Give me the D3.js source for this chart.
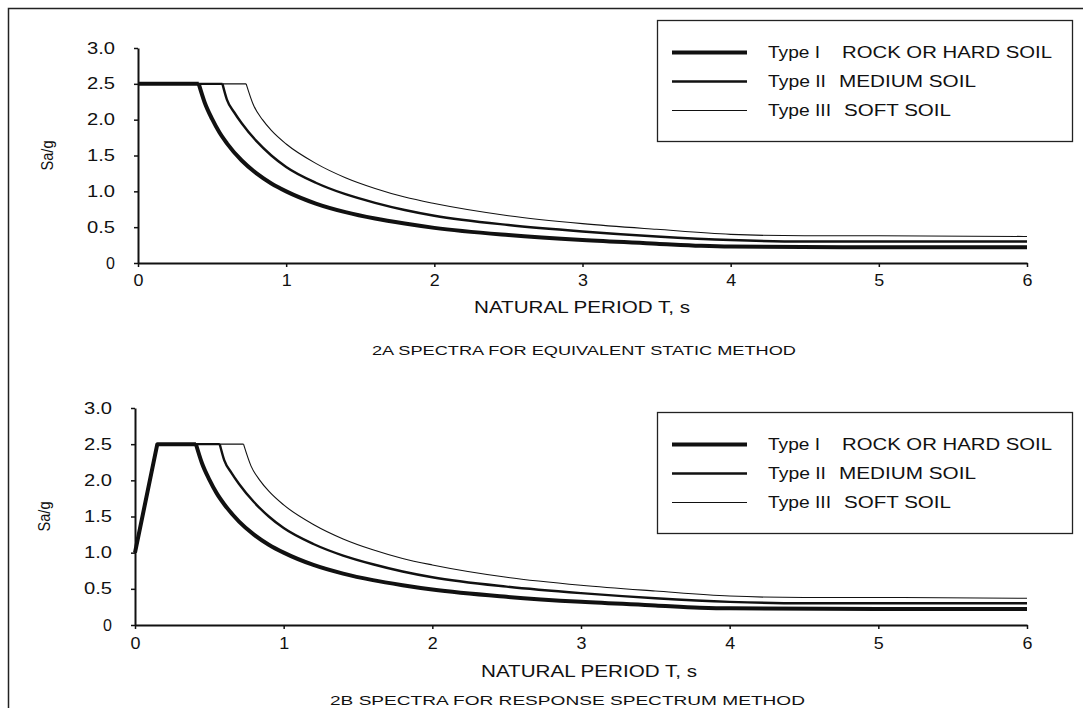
<!DOCTYPE html>
<html>
<head>
<meta charset="utf-8">
<script src="https://cdn.jsdelivr.net/npm/d3@7"></script>
<style>
  body { margin: 0; background: #fff; }
  svg text { font-family: "Liberation Sans", Arial, sans-serif; fill: #111; }
</style>
</head>
<body>
<div id="chart"></div>
<script>
//------------------------1. DATA-------------------------//
// [T (s), Sa/g] pairs
const staticTypeI   = [[0,2.5],[0.41,2.5],[0.45,2.24],[0.5,2.01],[0.55,1.82],[0.6,1.67],[0.7,1.43],[0.8,1.25],[0.9,1.11],[1.0,1.0],[1.2,0.83],[1.4,0.71],[1.6,0.62],[1.8,0.55],[2.0,0.49],[2.5,0.39],[3.0,0.32],[3.5,0.27],[3.8,0.24],[4.0,0.23],[5.0,0.22],[6.0,0.22]];
const staticTypeII  = [[0,2.5],[0.57,2.5],[0.6,2.28],[0.65,2.1],[0.7,1.95],[0.8,1.70],[0.9,1.50],[1.0,1.34],[1.2,1.12],[1.4,0.96],[1.6,0.84],[1.8,0.74],[2.0,0.66],[2.5,0.53],[3.0,0.44],[3.5,0.37],[4.0,0.32],[4.5,0.30],[5.0,0.30],[6.0,0.30]];
const staticTypeIII = [[0,2.5],[0.73,2.5],[0.78,2.2],[0.84,2.0],[0.9,1.85],[1.0,1.66],[1.2,1.39],[1.4,1.19],[1.6,1.04],[1.8,0.92],[2.0,0.83],[2.5,0.66],[3.0,0.55],[3.5,0.47],[4.0,0.40],[4.5,0.38],[5.0,0.38],[6.0,0.37]];

const respTypeI   = [[0,1.0],[0.15,2.5],[0.41,2.5],[0.45,2.24],[0.5,2.01],[0.55,1.82],[0.6,1.67],[0.7,1.43],[0.8,1.25],[0.9,1.11],[1.0,1.0],[1.2,0.83],[1.4,0.71],[1.6,0.62],[1.8,0.55],[2.0,0.49],[2.5,0.39],[3.0,0.32],[3.5,0.27],[3.8,0.24],[4.0,0.23],[5.0,0.22],[6.0,0.22]];
const respTypeII  = [[0,1.0],[0.15,2.5],[0.57,2.5],[0.6,2.28],[0.65,2.1],[0.7,1.95],[0.8,1.70],[0.9,1.50],[1.0,1.34],[1.2,1.12],[1.4,0.96],[1.6,0.84],[1.8,0.74],[2.0,0.66],[2.5,0.53],[3.0,0.44],[3.5,0.37],[4.0,0.32],[4.5,0.30],[5.0,0.30],[6.0,0.30]];
const respTypeIII = [[0,1.0],[0.15,2.5],[0.73,2.5],[0.78,2.2],[0.84,2.0],[0.9,1.85],[1.0,1.66],[1.2,1.39],[1.4,1.19],[1.6,1.04],[1.8,0.92],[2.0,0.83],[2.5,0.66],[3.0,0.55],[3.5,0.47],[4.0,0.40],[4.5,0.38],[5.0,0.38],[6.0,0.37]];

const xTicks = [0, 1, 2, 3, 4, 5, 6];
const yTicks = [0, 0.5, 1.0, 1.5, 2.0, 2.5, 3.0];
const legendTypes = ["Type I", "Type II", "Type III"];
const legendSoils = ["ROCK OR HARD SOIL", "MEDIUM SOIL", "SOFT SOIL"];
const captions = ["2A SPECTRA FOR EQUIVALENT STATIC METHOD", "2B SPECTRA FOR RESPONSE SPECTRUM METHOD"];

//------------------------2. SVG-------------------------//
const width = 1083;
const height = 708;
const strokes = [4, 2.4, 1.1];
// scanned lettering is wider than Arial, so text widths are taken from the scan
const typeWidths = [52, 58, 63];
const soilX = [842, 839, 844];
const soilWidths = [210, 137, 107];

const svg = d3.select("#chart").append("svg")
    .attr("width", width)
    .attr("height", height);

// scan frame: only top and left edges are inside the picture
svg.append("path")
    .attr("d", "M8.5,708V8.5H1083")
    .attr("fill", "none")
    .attr("stroke", "#222")
    .attr("stroke-width", 1.5);

//------------------------3. PANELS-------------------------//
function drawPanel(p){
    const xScale = d3.scaleLinear().domain([0, 6]).range([p.x0, 1027]);
    const yScale = d3.scaleLinear().domain([0, 3]).range([p.y0, p.y3]);

    const g = svg.append("g");

    // axes
    const xaxis = d3.axisBottom(xScale).tickValues(xTicks).tickFormat(d3.format("d")).tickSize(4).tickSizeOuter(0);
    const yaxis = d3.axisLeft(yScale).tickValues(yTicks)
        .tickFormat(d => d === 0 ? "0" : d3.format(".1f")(d)).tickSize(4).tickSizeOuter(0);

    const gx = g.append("g")
        .attr("transform", "translate(0," + p.y0 + ")")
        .call(xaxis);
    gx.select(".domain").attr("stroke", "#111").attr("stroke-width", 2);
    gx.selectAll(".tick line").attr("stroke", "#111").attr("stroke-width", 1.5);
    gx.selectAll(".tick text")
        .attr("y", p.tickDy)
        .attr("font-family", null)
        .style("font-size", "16px")
        .attr("fill", "#111")
        .attr("transform", "scale(1.12,1)");

    const gy = g.append("g")
        .attr("transform", "translate(" + p.x0 + ",0)")
        .call(yaxis);
    gy.select(".domain").attr("stroke", "#111").attr("stroke-width", 2);
    gy.selectAll(".tick line").attr("stroke", "#111").attr("stroke-width", 1.5);
    gy.selectAll(".tick text")
        .attr("x", -23)
        .attr("font-family", null)
        .style("font-size", "16px")
        .attr("fill", "#111")
        .attr("textLength", d => d === 0 ? null : 28)
        .attr("lengthAdjust", "spacingAndGlyphs");

    g.append("text")
        .attr("transform", "translate(" + (p.x0 - 91) + "," + (yScale(1.5)) + ") rotate(-90)")
        .attr("text-anchor", "middle")
        .attr("dy", "0.35em")
        .style("font-size", "17px")
        .attr("textLength", 30)
        .attr("lengthAdjust", "spacingAndGlyphs")
        .text("Sa/g");

    g.append("text")
        .attr("x", p.titleX - 107)
        .attr("y", p.titleY)
        .attr("dy", "0.35em")
        .style("font-size", "16px")
        .attr("textLength", 216)
        .attr("lengthAdjust", "spacingAndGlyphs")
        .text("NATURAL PERIOD T, s");

    g.append("text")
        .attr("x", p.capX)
        .attr("y", p.capY)
        .attr("dy", "0.35em")
        .style("font-size", "13px")
        .attr("fill", "#333")
        .attr("textLength", p.capW)
        .attr("lengthAdjust", "spacingAndGlyphs")
        .text(p.caption);

    // curves: straight plateau, smooth decay from the corner point on
    const flatLine = d3.line()
        .x(d => xScale(d[0]))
        .y(d => yScale(d[1]));
    const decayLine = d3.line()
        .curve(d3.curveMonotoneX)
        .x(d => xScale(d[0]))
        .y(d => yScale(d[1]));

    p.series.forEach(function(s, i){
        const knee = d3.maxIndex(s, d => d[1] >= 2.5 ? d[0] : -1);
        g.append("path")
            .datum(s.slice(0, knee + 1))
            .attr("fill", "none")
            .attr("stroke", "#111")
            .attr("stroke-width", strokes[i])
            .attr("stroke-linejoin", "round")
            .attr("d", flatLine);
        g.append("path")
            .datum(s.slice(knee))
            .attr("fill", "none")
            .attr("stroke", "#111")
            .attr("stroke-width", strokes[i])
            .attr("stroke-linejoin", "round")
            .attr("d", decayLine);
    });

    // legend
    const lg = g.append("g");
    lg.append("rect")
        .attr("x", 657.5).attr("y", p.ly)
        .attr("width", 415).attr("height", 121)
        .attr("fill", "#fff")
        .attr("stroke", "#222")
        .attr("stroke-width", 1.3);
    legendTypes.forEach(function(t, i){
        const yy = p.ly + 32 + i * 29;
        lg.append("line")
            .attr("x1", 672).attr("x2", 747)
            .attr("y1", yy).attr("y2", yy)
            .attr("stroke", "#111")
            .attr("stroke-width", strokes[i]);
        lg.append("text")
            .attr("x", 768).attr("y", yy)
            .attr("dy", "0.35em")
            .style("font-size", "16px")
            .attr("textLength", typeWidths[i])
            .attr("lengthAdjust", "spacingAndGlyphs")
            .text(t);
        lg.append("text")
            .attr("x", soilX[i]).attr("y", yy)
            .attr("dy", "0.35em")
            .style("font-size", "16px")
            .attr("textLength", soilWidths[i])
            .attr("lengthAdjust", "spacingAndGlyphs")
            .text(legendSoils[i]);
    });
}

drawPanel({x0: 138, y0: 263, y3: 48, ly: 20.5, tickDy: 12,
           titleX: 581, titleY: 307, capX: 372, capY: 350, capW: 424,
           series: [staticTypeI, staticTypeII, staticTypeIII], caption: captions[0]});
drawPanel({x0: 135, y0: 625, y3: 408, ly: 412.5, tickDy: 13,
           titleX: 588, titleY: 671, capX: 330, capY: 700, capW: 475,
           series: [respTypeI, respTypeII, respTypeIII], caption: captions[1]});
</script>
</body>
</html>
